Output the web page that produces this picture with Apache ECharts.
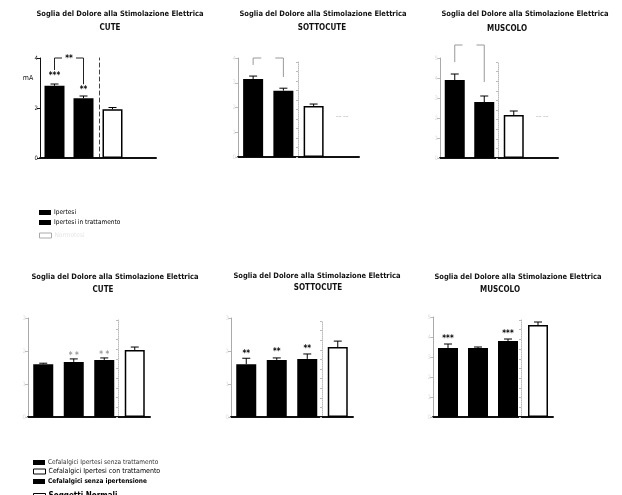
<!DOCTYPE html>
<html>
<head>
<meta charset="utf-8">
<script src="https://cdn.jsdelivr.net/npm/echarts@6/dist/echarts.min.js"></script>
<style>
  html, body { margin: 0; padding: 0; background: #fff; }
  #chart { width: 622px; height: 495px; }
</style>
</head>
<body>
<div id="chart"></div>
<script>
// ---- data ----
var titleText = 'Soglia del Dolore alla Stimolazione Elettrica';
var tissues = ['CUTE', 'SOTTOCUTE', 'MUSCOLO'];

var groupsTop = ['Ipertesi', 'Ipertesi in trattamento', 'Normotesi'];
var groupsBottom = ['Cefalalgici Ipertesi senza trattamento', 'Cefalalgici Ipertesi con trattamento',
  'Cefalalgici senza ipertensione', 'Soggetti Normali'];

// top row (3 groups)
var cuteTop = [2.89, 2.39, 1.95];
var cuteTopErr = [0.07, 0.09, 0.07];
var sottoTop = [3.15, 2.68, 2.06];
var sottoTopErr = [0.12, 0.1, 0.08];
var muscTop = [3.9, 2.8, 2.15];
var muscTopErr = [0.3, 0.3, 0.2];

// bottom row (4 groups)
var cuteBot = [1.6, 1.67, 1.73, 2.03];
var cuteBotErr = [0.03, 0.09, 0.06, 0.09];
var sottoBot = [1.6, 1.73, 1.76, 2.12];
var sottoBotErr = [0.18, 0.06, 0.15, 0.18];
var muscBot = [3.45, 3.45, 3.8, 4.6];
var muscBotErr = [0.2, 0.05, 0.1, 0.15];

// significance marks: [text, category index, y value]
var starsCuteTop = [['***', 0, 3.28], ['**', 1, 2.72]];
var starsCuteBot = [['* *', 1, 1.85], ['* *', 2, 1.87]];
var starsSottoBot = [['**', 0, 1.91], ['**', 1, 1.97], ['**', 2, 2.06]];
var starsMuscBot = [['***', 0, 3.9], ['***', 2, 4.15]];

// brackets: [x0, x1, yTop, yLeftEnd, yRightEnd]
var bracketCuteTop = [[0, 1, 4.0, 3.52, 2.95]];
var bracketSottoTop = [[0, 1, 4.0, 3.72, 3.23]];
var bracketMuscTop = [[0, 1, 5.65, 4.8, 3.8]];
var bracketText = ['**', '', ''];

// y-axis ranges
var yMaxTop = [4, 4, 5];
var yIntTop = [2, 1, 1];
var yMaxBot = [3, 3, 5];

// ---- layout ----
var FONT = '"Liberation Sans Narrow", "DejaVu Sans Condensed", Arial, sans-serif';
var gridBoxes = [
  { left: 40, top: 58, width: 116, height: 100 },
  { left: 238, top: 58, width: 121, height: 99 },
  { left: 440, top: 58, width: 118, height: 100 },
  { left: 28, top: 318, width: 122, height: 99 },
  { left: 231, top: 318, width: 122, height: 99 },
  { left: 433, top: 317, width: 120, height: 100 }
];
var sepBoxes = [
  { left: 99, top: 58, height: 100, dashed: true },
  { left: 298, top: 62, height: 95 },
  { left: 498, top: 62, height: 96 },
  { left: 118, top: 320, height: 97 },
  { left: 322, top: 321, height: 96 },
  { left: 521, top: 320, height: 97 }
];
var titlePos = [
  [120, 15, 110, 29], [323, 15, 322, 29], [525, 15, 507, 30],
  [115, 278, 103, 291], [317, 277, 318, 289], [518, 278, 500, 291]
];

var grid = [], xAxis = [], yAxis = [], series = [], title = [];

titlePos.forEach(function (p, i) {
  title.push({ text: titleText, left: p[0], top: p[1] - 5, textAlign: 'center', padding: 0,
    textStyle: { fontFamily: FONT, fontSize: 7.5, fontWeight: 'bold', color: '#111' } });
  title.push({ text: tissues[i % 3], left: p[2], top: p[3] - 5, textAlign: 'center', padding: 0,
    textStyle: { fontFamily: FONT, fontSize: 8, fontWeight: 'bold', color: '#111' } });
});

function renderErr(params, api) {
  var x = api.value(0), v = api.value(1), e = api.value(2);
  var p0 = api.coord([x, v]);
  var p1 = api.coord([x, v + e]);
  var st = { stroke: '#000', lineWidth: 1 };
  return { type: 'group', children: [
    { type: 'line', shape: { x1: p0[0], y1: p0[1], x2: p1[0], y2: p1[1] }, style: st },
    { type: 'line', shape: { x1: p1[0] - 4, y1: p1[1], x2: p1[0] + 4, y2: p1[1] }, style: st }
  ] };
}

function makeStars(list, color) {
  return function (params, api) {
    var p = api.coord([api.value(0), api.value(1)]);
    return { type: 'text', x: p[0], y: p[1], style: { text: list[params.dataIndex][0], fill: color,
      font: 'bold 8px ' + FONT, align: 'center', verticalAlign: 'middle' } };
  };
}

function makeBracket(color, textIdx) {
  return function (params, api) {
    var a = api.coord([api.value(0), api.value(2)]);
    var b = api.coord([api.value(1), api.value(2)]);
    var l = api.coord([api.value(0), api.value(3)]);
    var r = api.coord([api.value(1), api.value(4)]);
    var mid = (a[0] + b[0]) / 2, gap = 7;
    var st = { stroke: color, lineWidth: 1, fill: null };
    var kids = [
      { type: 'polyline', shape: { points: [[l[0], l[1]], [a[0], a[1]], [mid - gap, a[1]]] }, style: st },
      { type: 'polyline', shape: { points: [[mid + gap, b[1]], [b[0], b[1]], [r[0], r[1]]] }, style: st }
    ];
    if (bracketText[textIdx]) {
      kids.push({ type: 'text', x: mid, y: a[1] + 1, style: { text: bracketText[textIdx], fill: '#000',
        font: 'bold 8px ' + FONT, align: 'center', verticalAlign: 'middle' } });
    }
    return { type: 'group', children: kids };
  };
}

function addChart(i, cats, vals, errs, colors, yMax, yInt, stars, bracket, strong) {
  grid.push(Object.assign({ outerBoundsMode: 'none' }, gridBoxes[i]));
  xAxis.push({ type: 'category', gridIndex: i, data: cats, boundaryGap: true,
    axisLine: { lineStyle: { color: '#111', width: 2 } },
    axisTick: { show: false }, axisLabel: { show: false } });
  yAxis.push({ type: 'value', gridIndex: i, min: 0, max: yMax, interval: yInt,
    name: strong ? 'mA' : '', nameLocation: 'end', nameGap: -24,
    nameTextStyle: { fontFamily: FONT, fontSize: 7, color: '#111', padding: [0, 24, 0, 0] },
    axisLine: { show: true, lineStyle: { color: strong ? '#111' : '#aaa', width: 1 } },
    axisTick: { show: true, length: 3, lineStyle: { color: strong ? '#111' : '#bbb' } },
    axisLabel: { fontSize: 6, margin: 2, fontFamily: FONT, color: strong ? '#111' : '#ddd' },
    splitLine: { show: false } });
  vals.forEach(function (v, g) {
    var white = colors[g] === '#fff';
    series.push({ type: 'bar', name: cats[g], xAxisIndex: i, yAxisIndex: i, stack: 'c' + i,
      barWidth: 20,
      itemStyle: { color: colors[g], borderColor: '#000', borderWidth: white ? 1.5 : 0 },
      data: vals.map(function (w, k) { return k === g ? w : '-'; }) });
  });
  series.push({ type: 'custom', xAxisIndex: i, yAxisIndex: i, renderItem: renderErr, z: 5,
    encode: { x: 0, y: 1 },
    data: vals.map(function (v, k) { return [k, v, errs[k]]; }) });
  if (stars) {
    series.push({ type: 'custom', xAxisIndex: i, yAxisIndex: i, z: 6, encode: { x: 0, y: 1 },
      renderItem: makeStars(stars, i === 3 ? '#999' : '#000'),
      data: stars.map(function (s) { return [s[1], s[2]]; }) });
  }
  if (bracket) {
    series.push({ type: 'custom', xAxisIndex: i, yAxisIndex: i, z: 6,
      renderItem: makeBracket(strong ? '#222' : '#999', i), encode: { x: 0, y: 2 },
      data: bracket });
  }
}

var topCats = groupsTop.concat(['']);
var topColors = ['#000', '#000', '#fff'];
var botColors = ['#000', '#000', '#000', '#fff'];
addChart(0, topCats, cuteTop, cuteTopErr, topColors, yMaxTop[0], yIntTop[0], starsCuteTop, bracketCuteTop, true);
addChart(1, topCats, sottoTop, sottoTopErr, topColors, yMaxTop[1], yIntTop[1], null, bracketSottoTop, false);
addChart(2, topCats, muscTop, muscTopErr, topColors, yMaxTop[2], yIntTop[2], null, bracketMuscTop, false);
addChart(3, groupsBottom, cuteBot, cuteBotErr, botColors, yMaxBot[0], 1, starsCuteBot, null, false);
addChart(4, groupsBottom, sottoBot, sottoBotErr, botColors, yMaxBot[1], 1, starsSottoBot, null, false);
addChart(5, groupsBottom, muscBot, muscBotErr, botColors, yMaxBot[2], 1, starsMuscBot, null, false);

// separator axes between the groups
sepBoxes.forEach(function (s, k) {
  var gi = grid.length;
  grid.push({ left: s.left, top: s.top, width: 1, height: s.height, outerBoundsMode: 'none' });
  xAxis.push({ type: 'value', gridIndex: gi, show: false });
  yAxis.push({ type: 'value', gridIndex: gi, min: 0, max: 10, interval: 1, position: 'left',
    axisLine: { show: true, lineStyle: s.dashed ? { color: '#444', type: [4, 3], width: 1 }
      : { color: '#bbb', type: 'dotted', width: 1 } },
    axisTick: { show: !s.dashed, length: 2, lineStyle: { color: '#bbb' } },
    axisLabel: { show: false }, splitLine: { show: false } });
});

function legendItem(top, left, name, size, opts) {
  opts = opts || {};
  var item = { name: name };
  if (opts.white) item.itemStyle = { color: '#fff', borderColor: opts.border || '#000', borderWidth: 1 };
  return { top: top, left: left, padding: 0, orient: 'vertical', selectedMode: false,
    itemWidth: 12, itemHeight: 5, icon: 'rect',
    textStyle: { fontFamily: FONT, fontSize: size, color: opts.color || '#000',
      fontWeight: opts.bold ? 'bold' : 'normal', padding: [0, 0, 0, -2] },
    data: [item] };
}

var legend = [
  legendItem(209, 39, groupsTop[0], 6.5),
  legendItem(219, 39, groupsTop[1], 6.5),
  legendItem(232, 39, groupsTop[2], 6.5, { white: true, border: '#aaa', color: '#e6e6e6' }),
  legendItem(459, 33, groupsBottom[0], 6.5, { color: '#333' }),
  legendItem(468, 33, groupsBottom[1], 7, { white: true }),
  legendItem(478, 33, groupsBottom[2], 6.5, { bold: true }),
  legendItem(492, 33, groupsBottom[3], 8, { white: true, bold: true })
];

var chart = echarts.init(document.getElementById('chart'));
chart.setOption({
  animation: false,
  title: title,
  legend: legend,
  grid: grid,
  xAxis: xAxis,
  yAxis: yAxis,
  series: series,
  graphic: [
    { type: 'text', left: 336, top: 113, style: { text: '–– ––', fill: '#999', font: '6px ' + FONT } },
    { type: 'text', left: 536, top: 113, style: { text: '–– ––', fill: '#999', font: '6px ' + FONT } }
  ]
});
</script>
</body>
</html>
